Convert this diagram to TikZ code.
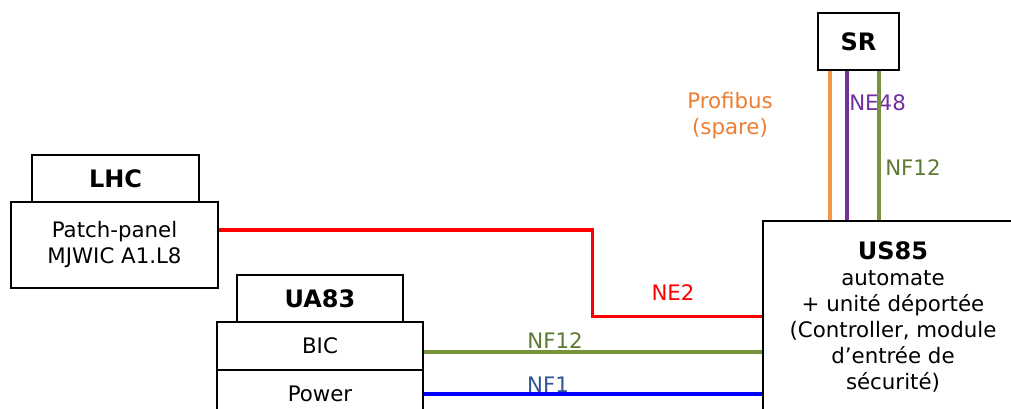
\documentclass[tikz,border=0pt]{standalone}
\usepackage{fontspec}
\setmainfont{DejaVu Sans}
\usepackage{tikz}
\definecolor{CabRed}{HTML}{FF0000}
\definecolor{CabOlive}{HTML}{77933C}
\definecolor{CabOliveTxt}{HTML}{5E7A32}
\definecolor{CabBlue}{HTML}{0000FF}
\definecolor{CabBlueTxt}{HTML}{2F5597}
\definecolor{CabOrange}{HTML}{F79646}
\definecolor{CabOrangeTxt}{HTML}{ED7D31}
\definecolor{CabPurple}{HTML}{7030A0}

\begin{document}
\begin{tikzpicture}[x=0.75pt,y=0.75pt,
  box/.style={draw,line width=1.8pt,inner sep=0pt,align=center,font=\fontsize{16}{19.5}\selectfont},
  title/.style={box,font=\fontsize{18}{21}\selectfont\bfseries},
  cable/.style={line width=2.4pt},
  lbl/.style={inner sep=0pt,align=center,font=\fontsize{16}{19.5}\selectfont}]
\path[use as bounding box] (0,0) rectangle (1011,408);
% cable labels
\node[lbl,text=CabOrangeTxt] (profibus) at (730,292) {Profibus\\(spare)};
\node[lbl,text=CabPurple,anchor=west] (ne48) at (849,305) {NE48};
\node[lbl,text=CabOliveTxt,anchor=west] (nf12v) at (885,240) {NF12};
\node[lbl,text=CabRed] (ne2) at (673,115) {NE2};
\node[lbl,text=CabOliveTxt] (nf12h) at (555,67) {NF12};
\node[lbl,text=CabBlueTxt] (nf1) at (548,23) {NF1};
% boxes
\node[title,minimum width=125.25pt,minimum height=35.25pt] (lhc) at (115.5,229.5) {LHC};
\node[box,minimum width=155.25pt,minimum height=64.5pt] (patch) at (114.5,163) {Patch-panel\\MJWIC A1.L8};
\node[title,minimum width=124.5pt,minimum height=35.25pt] (ua83) at (320,109.5) {UA83};
\node[box,minimum width=154.5pt,minimum height=36pt] (bic) at (320,62) {BIC};
\node[box,minimum width=154.5pt,minimum height=36pt] (power) at (320,14) {Power};
\node[title,minimum width=60.75pt,minimum height=42.75pt] (sr) at (858.5,366.5) {SR};
\node[box,minimum width=195pt,minimum height=143.25pt] (us85) at (893,91.5) {{\fontsize{18}{21}\selectfont\bfseries US85}\\automate\\+ unité déportée\\(Controller, module\\d’entrée de\\sécurité)};
% cables
\draw[cable,CabRed] ([yshift=11.25pt]patch.east) -- ++(373,0) |- (us85.west);
\draw[cable,CabOlive] ([yshift=-4.5pt]bic.east) -- ([yshift=-4.5pt]bic.east -| us85.west);
\draw[cable,CabBlue] (power.east) -- (power.east -| us85.west);
\draw[cable,CabOrange] ([xshift=-21.375pt]sr.south) -- ([xshift=-21.375pt]sr.south |- us85.north);
\draw[cable,CabPurple] ([xshift=-8.625pt]sr.south) -- ([xshift=-8.625pt]sr.south |- us85.north);
\draw[cable,CabOlive] ([xshift=15.375pt]sr.south) -- ([xshift=15.375pt]sr.south |- us85.north);
\end{tikzpicture}
\end{document}
